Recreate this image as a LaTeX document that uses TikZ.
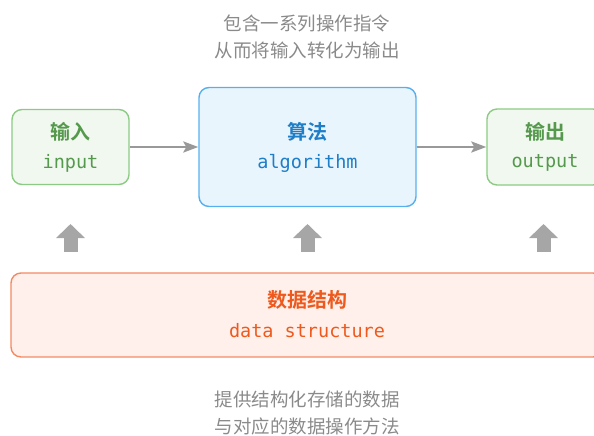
\documentclass[tikz,border=0pt]{standalone}
\usepackage{fontspec}
\usetikzlibrary{arrows.meta}
\newfontfamily\cjk{Noto Sans CJK SC}
\newfontfamily\cjkb{Noto Sans CJK SC Bold}
\newfontfamily\monof{DejaVu Sans Mono}
\definecolor{gfill}{HTML}{F1F8F0}
\definecolor{gline}{HTML}{8CCB83}
\definecolor{gtext}{HTML}{55994C}
\definecolor{bfill}{HTML}{E9F5FD}
\definecolor{bline}{HTML}{56B0EE}
\definecolor{btext}{HTML}{1E7EC8}
\definecolor{ofill}{HTML}{FFF0EB}
\definecolor{oline}{HTML}{F38A64}
\definecolor{otext}{HTML}{EE5A1E}
\definecolor{captext}{HTML}{8A8A8A}
\definecolor{arrowgray}{HTML}{999999}
\definecolor{blockgray}{HTML}{A6A6A6}
\tikzset{
  box/.style={draw, line width=1.4pt, rounded corners=10pt, inner sep=0pt},
  gbox/.style={box, draw=gline, fill=gfill},
  bbox/.style={box, draw=bline, fill=bfill},
  obox/.style={box, draw=oline, fill=ofill},
  title/.style={inner sep=0pt, font=\cjkb\fontsize{20}{22}\selectfont},
  code/.style={inner sep=0pt, font=\monof\fontsize{18.5}{22}\selectfont},
  caption/.style={inner sep=0pt, align=center, text=captext, font=\cjk\fontsize{18.5}{27}\selectfont},
  flow/.style={draw=arrowgray, line width=2.6pt, -{Stealth[length=15pt,width=11pt,inset=3pt]}},
  support/.style={draw=blockgray, line width=14pt, -{Triangle[length=14pt,width=28pt]}},
}
\begin{document}
\begin{tikzpicture}[x=1pt,y=-1pt]
\useasboundingbox (0,0) rectangle (594,436);
\clip (0,0) rectangle (594,436);
% boxes
\node[gbox, minimum width=117pt, minimum height=75pt] (in) at (70.5,147) {};
\node[bbox, minimum width=217pt, minimum height=119pt] (alg) at (307.5,147) {};
\node[gbox, minimum width=116pt, minimum height=76pt] (out) at (545,147) {};
\node[obox, minimum width=592pt, minimum height=84pt] (ds) at (307,315) {};
% texts in boxes
\node[title, text=gtext] (inT) at (70.5,131.5) {输入};
\node[code, text=gtext] (inC) at (70.5,163) {input};
\node[title, text=btext] (algT) at (307.5,132) {算法};
\node[code, text=btext] (algC) at (307.5,163) {algorithm};
\node[title, text=gtext] (outT) at (545,131.5) {输出};
\node[code, text=gtext] (outC) at (545,163) {output};
\node[title, text=otext] (dsT) at (307,300) {数据结构};
\node[code, text=otext] (dsC) at (307,331) {data structure};
% captions
\node[caption] (capTop) at (307,36.5) {包含一系列操作指令\\从而将输入转化为输出};
\node[caption] (capBot) at (307,412.5) {提供结构化存储的数据\\与对应的数据操作方法};
% flow arrows
\draw[flow] (in.east) -- (alg.west);
\draw[flow] (alg.east) -- (out.west);
% support arrows
\coordinate (s1a) at (70.5,252);  \coordinate (s1b) at (70.5,224);
\coordinate (s2a) at (307.5,252); \coordinate (s2b) at (307.5,224);
\coordinate (s3a) at (543.5,252); \coordinate (s3b) at (543.5,224);
\draw[support] (s1a) -- (s1b);
\draw[support] (s2a) -- (s2b);
\draw[support] (s3a) -- (s3b);
\end{tikzpicture}
\end{document}
